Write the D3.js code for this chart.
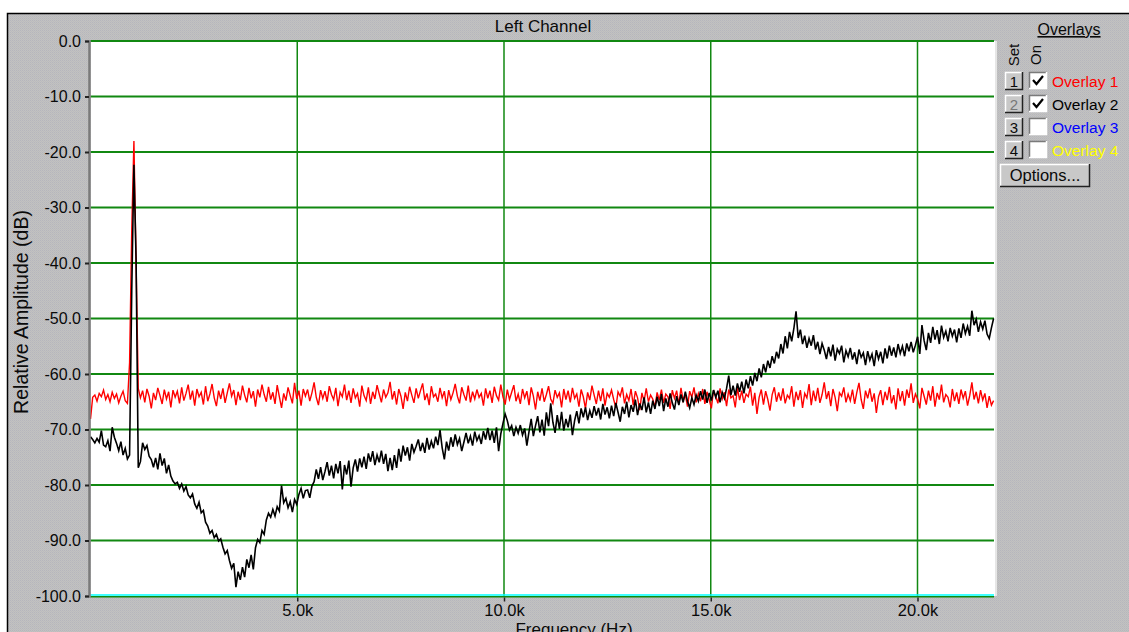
<!DOCTYPE html>
<html>
<head>
<meta charset="utf-8">
<script src="https://cdn.jsdelivr.net/npm/d3@7"></script>
<style>
  body { margin: 0; background: #fff; }
  svg { display: block; font-family: "Liberation Sans", Arial, sans-serif; }
</style>
</head>
<body>
<div id="mainDiv"></div>
<script>
// FFT bin width (Hz) - bin i sits at i * binHz
const binHz = 52.5;

// Overlay 1 (red), dB per bin
const overlay1 = [
  -68.1, -64.2, -63.8, -64.9, -63.5, -64.1, -62.9, -64.6, -63.7, -65.0, -63.3, -64.4, -63.6, -65.2, -64.0, -63.1, -64.8, -65.3, -58.0, -34.0,
  -18.0, -40.0, -62.6, -64.3, -63.0, -65.1, -62.7, -64.0, -66.2, -63.4, -64.7, -62.5, -63.9, -65.4, -62.8, -64.5, -63.2, -66.0, -62.9, -64.2,
  -63.1, -65.3, -62.4, -64.8, -63.5, -61.9, -64.6, -63.0, -65.7, -62.7, -64.1, -63.3, -65.5, -62.2, -64.9, -63.6, -61.8, -64.3, -65.8, -63.0,
  -64.5, -62.6, -65.2, -63.4, -61.7, -64.0, -62.9, -65.6, -63.2, -64.7, -62.1, -63.8, -65.1, -62.5, -64.4, -63.1, -65.9, -62.8, -64.2, -61.9,
  -63.7, -65.0, -62.3, -64.6, -63.3, -65.4, -62.0, -64.1, -66.1, -63.5, -64.8, -62.4, -63.9, -65.3, -61.6, -64.5, -63.0, -65.7, -62.7, -64.0,
  -62.8, -64.9, -63.4, -61.5, -64.2, -65.6, -62.9, -64.4, -63.1, -65.0, -62.2, -63.7, -64.6, -62.5, -65.8, -63.3, -64.1, -61.9, -64.7, -63.0,
  -65.2, -62.6, -64.3, -63.5, -65.9, -62.1, -63.9, -64.8, -62.4, -65.4, -63.2, -64.5, -62.0, -63.6, -65.1, -62.8, -64.2, -63.4, -61.4, -64.6,
  -63.1, -65.5, -62.7, -64.0, -66.3, -63.3, -64.9, -62.3, -63.8, -65.2, -62.6, -64.4, -63.0, -61.7, -64.7, -63.5, -65.6, -62.2, -64.1, -63.6,
  -65.0, -62.5, -64.3, -63.1, -65.8, -62.9, -64.6, -63.4, -61.8, -64.0, -65.3, -62.4, -63.7, -64.8, -62.1, -65.1, -63.2, -64.5, -62.8, -64.2,
  -63.5, -65.7, -62.6, -64.4, -63.0, -65.2, -62.3, -63.9, -64.7, -61.9, -64.1, -65.5, -62.8, -64.6, -63.3, -62.0, -64.9, -63.6, -65.4, -62.7,
  -64.3, -63.1, -65.6, -62.4, -64.0, -66.4, -63.2, -64.8, -62.6, -65.0, -63.7, -62.2, -64.5, -65.3, -62.9, -64.2, -63.4, -66.0, -62.7, -64.6,
  -63.0, -65.1, -62.5, -64.4, -63.6, -65.9, -62.8, -64.1, -66.2, -63.3, -64.7, -62.1, -63.8, -65.4, -63.0, -64.9, -62.6, -65.7, -63.5, -64.2,
  -62.9, -64.6, -66.1, -63.2, -64.0, -62.4, -65.3, -63.7, -64.8, -62.7, -65.6, -63.1, -64.3, -66.5, -63.4, -64.9, -62.6, -65.0, -63.8, -64.5,
  -66.0, -63.3, -64.7, -62.8, -65.2, -63.6, -64.1, -66.3, -62.9, -64.4, -63.0, -65.5, -62.5, -64.8, -63.7, -65.9, -63.1, -64.2, -62.4, -65.1,
  -63.5, -64.9, -62.7, -65.4, -63.2, -64.6, -66.2, -62.9, -64.0, -65.3, -62.6, -64.5, -63.3, -65.8, -62.8, -64.3, -63.9, -66.0, -62.5, -64.7,
  -63.0, -65.2, -63.6, -64.1, -62.3, -65.7, -63.4, -67.2, -64.2, -62.8, -65.5, -63.1, -64.6, -66.6, -63.7, -62.4, -65.0, -63.3, -64.8, -62.6,
  -65.3, -63.8, -64.4, -62.2, -65.9, -63.2, -64.7, -62.9, -66.1, -63.5, -64.3, -61.8, -65.6, -63.0, -64.9, -62.5, -65.2, -63.7, -61.5, -64.5,
  -63.1, -65.8, -62.7, -64.2, -66.7, -63.4, -64.0, -62.4, -65.1, -63.6, -64.8, -62.8, -65.4, -63.3, -61.6, -64.6, -66.3, -63.0, -64.4, -62.6,
  -65.0, -63.5, -67.0, -64.1, -62.9, -65.6, -63.2, -64.7, -62.3, -65.3, -63.8, -66.4, -62.6, -64.9, -63.1, -65.7, -62.8, -64.3, -61.7, -65.2,
  -63.6, -64.5, -66.2, -62.5, -64.0, -65.5, -63.0, -64.8, -62.2, -65.9, -63.4, -64.6, -61.9, -65.1, -63.7, -64.2, -66.0, -62.7, -64.9, -63.3,
  -65.4, -62.8, -64.4, -63.1, -65.7, -63.9, -61.5, -64.6, -63.2, -65.3, -62.9, -64.7, -63.5, -66.1, -64.0, -65.6, -64.8
];

// Overlay 2 (black), dB per bin
const overlay2 = [
  -71.3, -71.8, -72.4, -71.6, -72.3, -70.2, -72.8, -73.1, -72.0, -73.9, -69.6, -71.4, -72.5, -73.8, -72.2, -74.6, -73.4, -75.3, -74.6, -45.0,
  -22.3, -39.5, -76.9, -75.8, -72.4, -73.6, -72.9, -74.8, -75.4, -76.8, -75.1, -77.2, -74.3, -76.5, -75.2, -77.9, -76.4, -78.4, -79.3, -79.8,
  -79.5, -80.6, -79.8, -81.1, -80.3, -81.8, -82.3, -81.6, -83.4, -84.2, -83.1, -85.0, -84.6, -86.7, -87.4, -88.7, -88.2, -89.5, -88.9, -90.1,
  -89.7, -91.2, -92.4, -91.8, -93.6, -95.0, -94.1, -98.4, -95.6, -97.1, -94.8, -96.6, -93.4, -94.9, -92.6, -95.2, -91.3, -89.8, -90.4, -88.2,
  -88.9, -86.3, -85.1, -85.8, -84.4, -85.6, -83.9, -84.7, -80.1, -83.2, -82.4, -84.1, -83.0, -84.9, -82.6, -83.5, -81.7, -80.6, -82.4, -81.0,
  -80.9, -82.3, -80.2, -79.4, -77.2, -78.9, -76.8, -79.1, -77.6, -75.9, -78.3, -76.5, -78.8, -76.2, -77.9, -75.7, -80.8, -76.4, -78.1, -75.6,
  -80.3, -76.9, -75.4, -77.6, -75.2, -76.8, -74.9, -77.1, -74.3, -75.8, -73.9, -76.4, -74.6, -75.9, -73.8, -76.2, -74.4, -77.5, -75.1, -77.3,
  -74.6, -76.9, -73.5, -75.8, -72.9, -74.7, -73.2, -75.6, -72.6, -74.1, -73.0, -71.8, -73.9, -72.4, -74.2, -71.5, -73.6, -72.1, -73.4, -71.3,
  -72.8, -70.1, -73.3, -75.4, -72.2, -73.8, -71.4, -73.1, -70.9, -72.7, -71.6, -73.9, -72.3, -70.6, -72.5, -71.2, -72.9, -70.4, -72.0, -71.1,
  -72.6, -70.3, -71.8, -69.7, -71.9, -70.2, -72.4, -69.6, -73.9, -70.8, -68.9, -67.2, -68.4, -70.1, -69.3, -71.2, -69.6, -70.7, -69.2, -71.0,
  -69.8, -72.9, -70.4, -68.1, -71.2, -69.3, -67.6, -70.5, -68.2, -71.1, -66.9, -69.4, -65.3, -68.7, -70.6, -67.4, -69.9, -66.8, -70.2, -68.1,
  -69.6, -67.3, -71.0, -68.4, -66.7, -68.9, -66.2, -67.8, -66.0, -68.3, -66.6, -67.9, -65.8, -67.5, -66.1, -68.2, -65.4, -67.3, -66.0, -68.0,
  -65.7, -67.6, -65.2, -66.9, -68.6, -65.9, -67.2, -65.0, -67.8, -65.6, -66.8, -64.6, -67.4, -65.3, -66.5, -64.2, -66.9, -65.1, -67.2, -64.8,
  -66.3, -64.1, -65.8, -63.6, -66.7, -64.4, -65.9, -63.5, -65.2, -66.4, -64.0, -65.6, -63.7, -65.1, -63.2, -64.9, -66.1, -64.3, -65.5, -63.8,
  -64.9, -63.1, -64.6, -62.8, -65.2, -63.4, -64.8, -62.9, -64.2, -63.0, -65.1, -63.3, -64.4, -62.6, -60.3, -63.8, -62.1, -63.9, -61.7, -63.2,
  -61.4, -63.5, -61.0, -62.6, -60.4, -62.1, -59.8, -61.3, -59.0, -60.6, -58.2, -59.7, -57.6, -58.9, -56.8, -58.1, -56.0, -57.2, -54.6, -56.3,
  -53.2, -55.4, -52.4, -54.1, -51.8, -48.7, -53.5, -52.0, -54.6, -53.1, -55.3, -53.6, -54.9, -53.0, -55.6, -54.2, -56.4, -54.5, -55.7, -57.3,
  -55.1, -56.8, -54.7, -57.6, -55.5, -56.3, -54.9, -57.9, -55.8, -56.9, -55.3, -57.4, -56.1, -58.2, -55.6, -57.0, -56.2, -58.4, -55.9, -57.5,
  -56.4, -58.6, -55.7, -57.3, -56.0, -58.1, -55.4, -57.2, -54.9, -56.7, -55.2, -57.0, -54.6, -56.3, -55.0, -56.8, -54.5, -55.9, -54.2, -56.1,
  -54.8, -53.3, -56.4, -51.2, -54.0, -55.7, -52.6, -54.4, -51.5, -53.8, -52.1, -54.6, -51.3, -53.4, -52.3, -54.1, -51.7, -53.2, -52.0, -54.3,
  -51.8, -53.5, -50.9, -52.7, -51.4, -53.1, -48.6, -51.2, -50.1, -52.4, -50.6, -51.9, -50.4, -52.8, -53.6, -51.7, -50.0
];

const yTicks = [0, -10, -20, -30, -40, -50, -60, -70, -80, -90, -100];
const xTicks = [5000, 10000, 15000, 20000];
const overlayNames = ["Overlay 1", "Overlay 2", "Overlay 3", "Overlay 4"];
const overlayColors = ["#ff0000", "#000000", "#0000ff", "#ffff00"];
const overlayOn = [true, true, false, false];

const width = 1129, height = 632;
const plot = { left: 90.5, right: 994, top: 41, bottom: 596 };
const ink = "#0a0a0a";

const svg = d3.select("#mainDiv").append("svg")
  .attr("width", width)
  .attr("height", height);

// dithered gray window background
const defs = svg.append("defs");
const pat = defs.append("pattern")
  .attr("id", "dither")
  .attr("width", 2).attr("height", 2)
  .attr("patternUnits", "userSpaceOnUse");
pat.append("rect").attr("width", 2).attr("height", 2).attr("fill", "#c2c2c2");
pat.append("rect").attr("width", 1).attr("height", 1).attr("fill", "#b6b6bc");
pat.append("rect").attr("x", 1).attr("y", 1).attr("width", 1).attr("height", 1).attr("fill", "#bcbcbc");

svg.append("rect")
  .attr("x", 7).attr("y", 13)
  .attr("width", width - 7).attr("height", height - 13)
  .attr("fill", "url(#dither)");
svg.append("path")
  .attr("d", "M7.5," + height + "V13.5H" + width)
  .attr("fill", "none")
  .attr("stroke", "#000")
  .attr("stroke-width", 1.5);

// scales
const x = d3.scaleLinear().domain([0, 21850]).range([plot.left, plot.right]);
const y = d3.scaleLinear().domain([-100, 0]).range([plot.bottom, plot.top]);

// plot area
svg.append("rect")
  .attr("x", plot.left).attr("y", plot.top)
  .attr("width", plot.right - plot.left + 1).attr("height", plot.bottom - plot.top)
  .attr("fill", "#fff");
svg.append("line")
  .attr("x1", plot.right + 2).attr("x2", plot.right + 2)
  .attr("y1", plot.top).attr("y2", plot.bottom)
  .attr("stroke", "#e6e6e6").attr("stroke-width", 2);

// grid
const g = svg.append("g");
g.selectAll(".hgrid")
  .data(yTicks.filter(d => d > -100))
  .enter().append("line")
    .attr("class", "hgrid")
    .attr("x1", plot.left).attr("x2", plot.right)
    .attr("y1", d => y(d)).attr("y2", d => y(d))
    .attr("stroke", "#118811").attr("stroke-width", 2);
g.selectAll(".vgrid")
  .data(xTicks)
  .enter().append("line")
    .attr("class", "vgrid")
    .attr("x1", d => x(d)).attr("x2", d => x(d))
    .attr("y1", plot.top).attr("y2", plot.bottom)
    .attr("stroke", "#118811").attr("stroke-width", 1.5);
g.append("line")
  .attr("x1", plot.left).attr("x2", plot.right)
  .attr("y1", plot.bottom - 1).attr("y2", plot.bottom - 1)
  .attr("stroke", "#00ffff").attr("stroke-width", 1.5);
g.append("line")
  .attr("x1", plot.left).attr("x2", plot.right)
  .attr("y1", plot.bottom + 0.8).attr("y2", plot.bottom + 0.8)
  .attr("stroke", "#118811").attr("stroke-width", 1.5);

// traces
const freqOf = i => i * binHz;
const line = d3.line()
  .x((d, i) => x(freqOf(i)))
  .y(d => y(d));

const traces = svg.append("g");
traces.append("path")
  .datum(overlay1)
  .attr("d", line)
  .attr("fill", "none")
  .attr("stroke", overlayColors[0])
  .attr("stroke-width", 1.4);
traces.append("path")
  .datum(overlay2)
  .attr("d", line)
  .attr("fill", "none")
  .attr("stroke", overlayColors[1])
  .attr("stroke-width", 1.6);

// left axis
const yAxis = d3.axisLeft(y)
  .tickValues(yTicks)
  .tickSize(4)
  .tickPadding(4)
  .tickFormat(d => d.toFixed(1));
const ya = svg.append("g")
  .attr("transform", "translate(" + (plot.left - 1.5) + ",0)")
  .call(yAxis);
ya.select(".domain").attr("stroke", "#7a7a7a").attr("stroke-width", 2.5);
ya.selectAll(".tick line").attr("stroke", "#222").attr("stroke-width", 2);
ya.selectAll("text")
  .attr("font-family", "'Liberation Sans', Arial, sans-serif")
  .attr("font-size", 16)
  .attr("fill", ink);

// bottom axis
const xAxis = d3.axisBottom(x)
  .tickValues(xTicks)
  .tickSize(4)
  .tickPadding(3)
  .tickFormat(d => (d / 1000).toFixed(1) + "k");
const xa = svg.append("g")
  .attr("transform", "translate(0," + (plot.bottom + 1.5) + ")")
  .call(xAxis);
xa.select(".domain").remove();
xa.selectAll(".tick line").attr("stroke", "#222").attr("stroke-width", 1.5);
xa.selectAll("text")
  .attr("font-family", "'Liberation Sans', Arial, sans-serif")
  .attr("font-size", 16.5)
  .attr("fill", ink);

// titles
svg.append("text")
  .attr("x", 543).attr("y", 32)
  .attr("text-anchor", "middle")
  .attr("font-size", 17)
  .attr("fill", ink)
  .text("Left Channel");
svg.append("text")
  .attr("x", 574).attr("y", 635)
  .attr("text-anchor", "middle")
  .attr("font-size", 17)
  .attr("fill", ink)
  .text("Frequency (Hz)");
svg.append("text")
  .attr("transform", "translate(28,312) rotate(-90)")
  .attr("text-anchor", "middle")
  .attr("font-size", 19.5)
  .attr("fill", ink)
  .text("Relative Amplitude (dB)");

// overlays panel
const panel = svg.append("g");
panel.append("text")
  .attr("x", 1069).attr("y", 35)
  .attr("text-anchor", "middle")
  .attr("font-size", 16)
  .attr("text-decoration", "underline")
  .attr("fill", ink)
  .text("Overlays");
panel.append("text")
  .attr("transform", "translate(1019,55) rotate(-90)")
  .attr("text-anchor", "middle")
  .attr("font-size", 15)
  .attr("fill", ink)
  .text("Set");
panel.append("text")
  .attr("transform", "translate(1041,55) rotate(-90)")
  .attr("text-anchor", "middle")
  .attr("font-size", 15)
  .attr("fill", ink)
  .text("On");

function bevel(sel, bx, by, bw, bh, sunken) {
  sel.append("rect").attr("x", bx).attr("y", by).attr("width", bw).attr("height", bh)
    .attr("fill", sunken ? "#fff" : "#c8c8c8");
  const light = sunken ? "#7a7a7a" : "#fff";
  const dark = sunken ? "#fff" : "#222";
  sel.append("path")
    .attr("d", "M" + (bx + 0.5) + "," + (by + bh) + "V" + (by + 0.5) + "H" + (bx + bw))
    .attr("fill", "none").attr("stroke", light).attr("stroke-width", 1.5);
  sel.append("path")
    .attr("d", "M" + (bx + bw - 0.5) + "," + by + "V" + (by + bh - 0.5) + "H" + bx)
    .attr("fill", "none").attr("stroke", dark).attr("stroke-width", 1.5);
}

const rowY = d3.scaleLinear().domain([0, 3]).range([72, 141]);
const rows = panel.selectAll(".row")
  .data(overlayNames)
  .enter().append("g")
    .attr("class", "row")
    .attr("transform", (d, i) => "translate(0," + rowY(i) + ")");

rows.each(function(d, i) {
  const r = d3.select(this);
  bevel(r, 1005, 0, 18, 18, false);
  r.append("text")
    .attr("x", 1014).attr("y", 15)
    .attr("text-anchor", "middle")
    .attr("font-size", 15)
    .attr("fill", i === 1 ? "#777" : ink)
    .text(i + 1);
  bevel(r, 1029, 0, 18, 17, true);
  if (overlayOn[i]) {
    r.append("path")
      .attr("d", "M1033,8 L1036.5,12 L1043,4")
      .attr("fill", "none")
      .attr("stroke", "#000")
      .attr("stroke-width", 2.2);
  }
  r.append("text")
    .attr("x", 1052).attr("y", 15)
    .attr("font-size", 15.5)
    .attr("fill", overlayColors[i])
    .text(d);
});

bevel(panel, 1000, 164, 90, 23, false);
panel.append("text")
  .attr("x", 1045).attr("y", 181)
  .attr("text-anchor", "middle")
  .attr("font-size", 16.5)
  .attr("fill", ink)
  .text("Options...");
</script>
</body>
</html>
